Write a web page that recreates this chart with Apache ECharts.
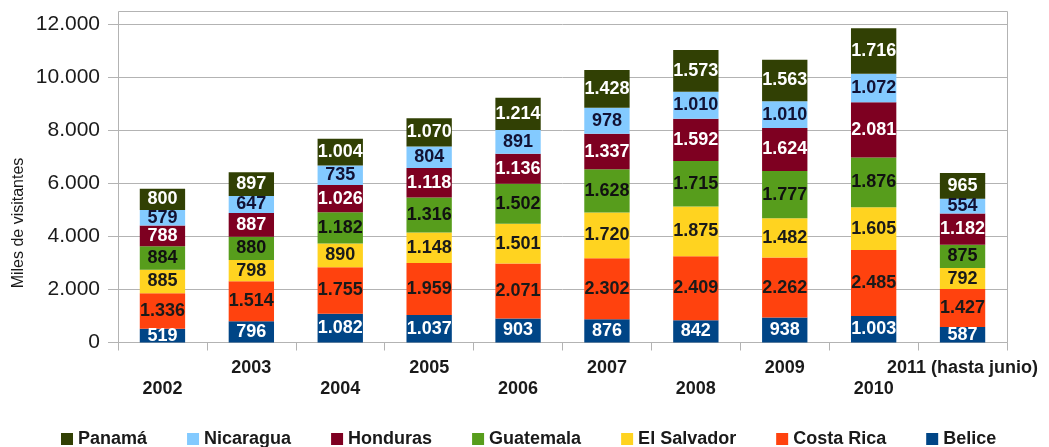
<!DOCTYPE html>
<html>
<head>
<meta charset="utf-8">
<script src="https://cdn.jsdelivr.net/npm/echarts@6/dist/echarts.min.js"></script>
<style>
  html, body { margin: 0; padding: 0; background: #fff; }
  #chart { width: 1049px; height: 447px; }
</style>
</head>
<body>
<div id="chart"></div>
<script>
// Visitantes por país de Centroamérica (miles)
const years = ['2002', '2003', '2004', '2005', '2006', '2007', '2008', '2009', '2010', '2011 (hasta junio)'];

const belice     = [519, 796, 1082, 1037, 903, 876, 842, 938, 1003, 587];
const costaRica  = [1336, 1514, 1755, 1959, 2071, 2302, 2409, 2262, 2485, 1427];
const elSalvador = [885, 798, 890, 1148, 1501, 1720, 1875, 1482, 1605, 792];
const guatemala  = [884, 880, 1182, 1316, 1502, 1628, 1715, 1777, 1876, 875];
const honduras   = [788, 887, 1026, 1118, 1136, 1337, 1592, 1624, 2081, 1182];
const nicaragua  = [579, 647, 735, 804, 891, 978, 1010, 1010, 1072, 554];
const panama     = [800, 897, 1004, 1070, 1214, 1428, 1573, 1563, 1716, 965];

const yTicks = [0, 2000, 4000, 6000, 8000, 10000, 12000];
const legendOrder = ['Panamá', 'Nicaragua', 'Honduras', 'Guatemala', 'El Salvador', 'Costa Rica', 'Belice'];

// Thousands separator with a period: 1336 -> "1.336"
function fmt(v) {
  return String(Math.round(v)).replace(/\B(?=(\d{3})+(?!\d))/g, '.');
}

const FONT = '"Liberation Sans", Arial, sans-serif';

// stacked from the bottom up
const stack = [
  { name: 'Belice',      data: belice,     color: '#004586', text: '#ffffff' },
  { name: 'Costa Rica',  data: costaRica,  color: '#ff420e', text: '#1a1a1a' },
  { name: 'El Salvador', data: elSalvador, color: '#ffd320', text: '#1a1a1a' },
  { name: 'Guatemala',   data: guatemala,  color: '#579d1c', text: '#111111' },
  { name: 'Honduras',    data: honduras,   color: '#7e0021', text: '#ffffff' },
  { name: 'Nicaragua',   data: nicaragua,  color: '#83caff', text: '#111133' },
  { name: 'Panamá',      data: panama,     color: '#314004', text: '#ffffff' }
];

const G = { left: 118, right: 42, top: 24, bottom: 104.5 };

const chart = echarts.init(document.getElementById('chart'), null, { renderer: 'canvas' });

chart.setOption({
  animation: false,
  backgroundColor: '#ffffff',
  textStyle: { fontFamily: FONT },
  grid: { left: G.left, right: G.right, top: G.top, bottom: G.bottom, containLabel: false },
  legend: {
    data: legendOrder,
    left: 56,
    top: 425,
    icon: 'rect',
    itemWidth: 12,
    itemHeight: 12,
    itemGap: 40,
    textStyle: { fontFamily: FONT, fontSize: 18, fontWeight: 'bold', color: '#1a1a1a' }
  },
  graphic: [
    {
      // plot frame (extends a little above the top gridline)
      type: 'rect',
      silent: true,
      z: 1,
      shape: { x: 118.5, y: 11.5, width: 889, height: 331 },
      style: { fill: 'none', stroke: '#b3b3b3', lineWidth: 1 }
    },
    {
      type: 'text',
      x: 19,
      y: 223,
      rotation: Math.PI / 2,
      style: {
        text: 'Miles de visitantes',
        font: '16px ' + FONT,
        fill: '#1a1a1a',
        align: 'center',
        verticalAlign: 'middle'
      }
    }
  ],
  xAxis: {
    type: 'category',
    data: years,
    boundaryGap: true,
    axisLine: { show: true, lineStyle: { color: '#b3b3b3', width: 1 } },
    axisTick: { show: true, length: 8, alignWithLabel: false, lineStyle: { color: '#b3b3b3' } },
    axisLabel: {
      interval: 0,
      margin: 15,
      fontFamily: FONT,
      fontSize: 18,
      fontWeight: 'bold',
      color: '#1a1a1a',
      lineHeight: 21,
      // alternate labels between two rows
      formatter: function (v, i) { return i % 2 === 0 ? '\n' + v : v; }
    }
  },
  yAxis: {
    type: 'value',
    min: 0,
    max: yTicks[yTicks.length - 1],
    interval: yTicks[1] - yTicks[0],
    axisLine: { show: true, lineStyle: { color: '#b3b3b3', width: 1 } },
    axisTick: { show: true, length: 10, lineStyle: { color: '#b3b3b3' } },
    splitLine: { show: true, lineStyle: { color: '#b3b3b3', width: 1 } },
    axisLabel: {
      margin: 18,
      fontFamily: FONT,
      fontSize: 21,
      color: '#1a1a1a',
      formatter: function (v) { return fmt(v); }
    }
  },
  series: stack.map(function (s) {
    return {
      name: s.name,
      type: 'bar',
      stack: 'total',
      barWidth: '51%',
      data: s.data,
      itemStyle: { color: s.color },
      label: {
        show: true,
        position: 'inside',
        fontFamily: FONT,
        fontSize: 18,
        fontWeight: 'bold',
        color: s.text,
        formatter: function (p) { return fmt(p.value); }
      }
    };
  })
});
</script>
</body>
</html>
